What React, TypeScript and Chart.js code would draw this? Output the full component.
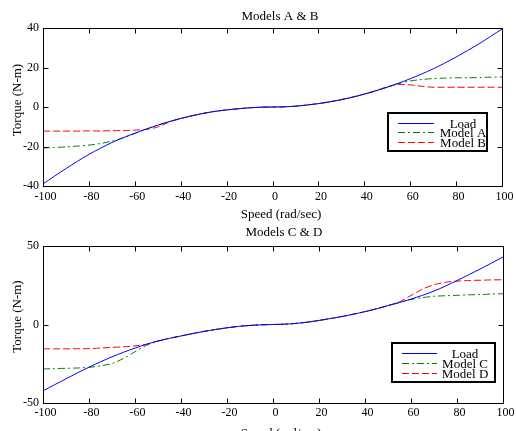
import React, { useEffect, useRef } from 'react';
import { Chart, registerables } from 'chart.js';

Chart.register(...registerables);

const speed = [-100, -95, -90, -85, -80, -75, -70, -65, -60, -55, -50, -45, -40, -35, -30, -25, -20, -15, -10, -5, 0, 5, 10, 15, 20, 25, 30, 35, 40, 45, 50, 55, 60, 65, 70, 75, 80, 85, 90, 95, 100];

const loadAB = [-39.0, -35.0, -31.2, -27.5, -24.0, -20.9, -18.0, -15.5, -13.3, -11.2, -9.2, -7.4, -5.8, -4.4, -3.2, -2.2, -1.5, -0.9, -0.4, -0.1, 0, 0.1, 0.4, 1.0, 1.7, 2.6, 3.7, 5.0, 6.5, 8.2, 10.1, 12.1, 14.3, 16.7, 19.3, 22.2, 25.3, 28.6, 32.0, 35.7, 39.5];
const modelA = [-20.7, -20.5, -20.2, -19.8, -19.3, -18.5, -17.3, -15.6, -13.4, -11.2, -9.2, -7.4, -5.8, -4.4, -3.2, -2.2, -1.5, -0.9, -0.4, -0.1, 0, 0.1, 0.4, 1.0, 1.7, 2.6, 3.7, 5.0, 6.5, 8.1, 10.0, 11.9, 13.2, 13.9, 14.4, 14.6, 14.8, 14.8, 14.9, 15.1, 15.2];
const modelB = [-12.2, -12.2, -12.2, -12.2, -12.1, -12.1, -12.0, -11.9, -11.7, -11.3, -10.1, -7.6, -5.9, -4.5, -3.2, -2.2, -1.5, -0.9, -0.4, -0.1, 0, 0.1, 0.4, 1.0, 1.8, 2.7, 3.8, 5.1, 6.6, 8.3, 10.2, 11.4, 11.2, 10.5, 10.0, 10.0, 10.0, 10.0, 10.0, 10.0, 10.0];

const loadCD = [-42.3, -38.4, -34.6, -30.8, -27.2, -23.8, -20.6, -17.7, -15.0, -12.6, -10.5, -8.8, -7.3, -5.8, -4.4, -3.2, -2.1, -1.2, -0.6, -0.2, 0, 0.2, 0.7, 1.5, 2.6, 3.8, 5.1, 6.6, 8.2, 10.0, 12.0, 14.0, 16.2, 18.6, 21.3, 24.5, 28.0, 31.6, 35.3, 39.1, 43.0];
const modelC = [-28.3, -28.1, -27.9, -27.7, -27.3, -26.3, -24.9, -21.6, -17.3, -13.3, -10.6, -8.8, -7.3, -5.8, -4.4, -3.2, -2.1, -1.2, -0.6, -0.2, 0, 0.2, 0.7, 1.5, 2.6, 3.8, 5.1, 6.6, 8.2, 10.0, 12.0, 14.0, 15.9, 17.1, 18.0, 18.3, 18.6, 18.9, 19.1, 19.4, 19.6];
const modelD = [-15.5, -15.5, -15.5, -15.4, -15.4, -15.0, -14.6, -14.2, -13.6, -12.5, -10.5, -8.8, -7.3, -5.8, -4.4, -3.2, -2.1, -1.2, -0.6, -0.2, 0, 0.2, 0.7, 1.5, 2.6, 3.8, 5.1, 6.6, 8.2, 10.0, 12.1, 14.5, 18.5, 22.5, 25.3, 26.9, 27.6, 28.0, 28.2, 28.4, 28.5];

const FONT = "'Liberation Serif', 'Times New Roman', serif";
const BLUE = '#0000ff';
const GREEN = '#008000';
const RED = '#ff0000';
const DASH_DOT = [7, 3, 2, 3];
const DASHED = [7, 3];

const framePlugin = {
  id: 'matlabFrame',
  afterDatasetsDraw(chart: any, _args: any, opts: any) {
    const { ctx, chartArea: a, scales } = chart;
    ctx.save();
    ctx.strokeStyle = '#000';
    ctx.lineWidth = 1;
    ctx.setLineDash([]);
    const L = Math.round(a.left) + 0.5;
    const R = Math.round(a.right) + 0.5;
    const T = Math.round(a.top) + 0.5;
    const B = Math.round(a.bottom) + 0.5;
    ctx.strokeRect(L, T, R - L, B - T);
    const tl = 5;
    ctx.beginPath();
    scales.x.ticks.forEach((t: any) => {
      const px = Math.round(scales.x.getPixelForValue(t.value)) + 0.5;
      ctx.moveTo(px, B);
      ctx.lineTo(px, B - tl);
      ctx.moveTo(px, T);
      ctx.lineTo(px, T + tl);
    });
    scales.y.ticks.forEach((t: any) => {
      const py = Math.round(scales.y.getPixelForValue(t.value)) + 0.5;
      ctx.moveTo(L, py);
      ctx.lineTo(L + tl, py);
      ctx.moveTo(R, py);
      ctx.lineTo(R - tl, py);
    });
    ctx.stroke();

    // legend
    const lg = opts.legend;
    ctx.fillStyle = '#fff';
    ctx.fillRect(lg.x1, lg.y1, lg.x2 - lg.x1, lg.y2 - lg.y1);
    ctx.lineWidth = 2;
    ctx.strokeStyle = '#000';
    ctx.strokeRect(lg.x1, lg.y1, lg.x2 - lg.x1, lg.y2 - lg.y1);
    ctx.font = `13px ${FONT}`;
    ctx.textAlign = 'center';
    ctx.textBaseline = 'alphabetic';
    chart.data.datasets.forEach((ds: any, i: number) => {
      const y = Math.round(lg.rowY + i * lg.rowGap) + 0.5;
      ctx.beginPath();
      ctx.lineWidth = 1;
      ctx.strokeStyle = ds.borderColor;
      ctx.setLineDash(ds.borderDash || []);
      ctx.moveTo(lg.lx1, y);
      ctx.lineTo(lg.lx2, y);
      ctx.stroke();
      ctx.setLineDash([]);
      ctx.fillStyle = '#000';
      ctx.fillText(ds.label, lg.tx, y + 4);
    });
    ctx.restore();
  },
  afterDraw(chart: any, _args: any, opts: any) {
    const { ctx, chartArea: a } = chart;
    ctx.save();
    ctx.fillStyle = '#000';
    ctx.font = `13px ${FONT}`;
    ctx.textAlign = 'center';
    ctx.textBaseline = 'alphabetic';
    ctx.fillText(opts.title, opts.titleX, opts.titleY);
    ctx.fillText(opts.xLabel, opts.xLabelX, opts.xLabelY);
    ctx.translate(opts.yLabelX, (a.top + a.bottom) / 2 + opts.yLabelDy);
    ctx.rotate(-Math.PI / 2);
    ctx.fillText(opts.yLabel, 0, 0);
    ctx.restore();
  },
};

function makeConfig(
  title: string,
  load: number[],
  m1: number[],
  m2: number[],
  l1: string,
  l2: string,
  yMin: number,
  yMax: number,
  yStep: number,
  layout: any
) {
  const pts = (arr: number[]) => arr.map((v, i) => ({ x: speed[i], y: v }));
  return {
    type: 'line' as const,
    data: {
      datasets: [
        { label: 'Load', data: pts(load), borderColor: BLUE, borderWidth: 1, pointRadius: 0, fill: false, tension: 0.3, borderDash: [] },
        { label: l1, data: pts(m1), borderColor: GREEN, borderWidth: 1, pointRadius: 0, fill: false, tension: 0.3, borderDash: DASH_DOT },
        { label: l2, data: pts(m2), borderColor: RED, borderWidth: 1, pointRadius: 0, fill: false, tension: 0.3, borderDash: DASHED },
      ],
    },
    options: {
      animation: false,
      responsive: false,
      maintainAspectRatio: false,
      events: [],
      layout: { padding: { top: layout.top, right: layout.right, left: 0, bottom: 0 } },
      plugins: {
        legend: { display: false },
        title: { display: false },
        tooltip: { enabled: false },
        matlabFrame: {
          title,
          titleX: layout.titleX,
          titleY: layout.titleY,
          xLabel: 'Speed (rad/sec)',
          xLabelX: layout.xLabelX,
          xLabelY: layout.xLabelY,
          yLabel: 'Torque (N-m)',
          yLabelX: layout.yLabelX,
          yLabelDy: layout.yLabelDy,
          legend: layout.legend,
        },
      },
      scales: {
        x: {
          type: 'linear',
          min: -100,
          max: 100,
          grid: { display: false, drawTicks: false },
          border: { display: false },
          ticks: { stepSize: 20, color: '#000', font: { family: FONT, size: 12 }, padding: layout.xTickPad, labelOffset: 2.5, maxRotation: 0, autoSkip: false },
          afterFit: (s: any) => { s.height = layout.xHeight; },
        },
        y: {
          type: 'linear',
          min: yMin,
          max: yMax,
          grid: { display: false, drawTicks: false },
          border: { display: false },
          ticks: { stepSize: yStep, color: '#000', font: { family: FONT, size: 12 }, padding: 4 },
          afterFit: (s: any) => { s.width = 43; },
        },
      },
    },
    plugins: [framePlugin],
  };
}

function ChartCanvas({ config, width, height, top }: any) {
  const ref = useRef<HTMLCanvasElement>(null);
  useEffect(() => {
    if (!ref.current) return;
    const chart = new Chart(ref.current, config as any);
    return () => chart.destroy();
  }, []);
  return (
    <canvas
      ref={ref}
      width={width}
      height={height}
      style={{ position: 'absolute', left: 0, top, width, height, display: 'block' }}
    />
  );
}

export default function App() {
  const topCfg = makeConfig('Models A & B', loadAB, modelA, modelB, 'Model A', 'Model B', -40, 40, 20, {
    top: 28,
    right: 14,
    xHeight: 230 - 186,
    xTickPad: 4,
    titleX: 280,
    titleY: 20,
    xLabelX: 281,
    xLabelY: 218,
    yLabelX: 20.5,
    yLabelDy: -7,
    legend: { x1: 388, y1: 113, x2: 487, y2: 151, lx1: 398, lx2: 434, tx: 463, rowY: 122.7, rowGap: 9.5 },
  });
  const botCfg = makeConfig('Models C & D', loadCD, modelC, modelD, 'Model C', 'Model D', -50, 50, 50, {
    top: 31,
    right: 13,
    xHeight: 216 - 188,
    xTickPad: 3,
    titleX: 284,
    titleY: 20.5,
    xLabelX: 281,
    xLabelY: 222,
    yLabelX: 20.5,
    yLabelDy: -8,
    legend: { x1: 392, y1: 128, x2: 495, y2: 167, lx1: 402, lx2: 437, tx: 465, rowY: 138.3, rowGap: 9.7 },
  });
  return (
    <div style={{ position: 'absolute', left: 0, top: 0, width: 516, height: 431, background: '#fff', overflow: 'hidden' }}>
      <ChartCanvas config={topCfg} width={516} height={230} top={0} />
      <ChartCanvas config={botCfg} width={516} height={216} top={215} />
    </div>
  );
}
